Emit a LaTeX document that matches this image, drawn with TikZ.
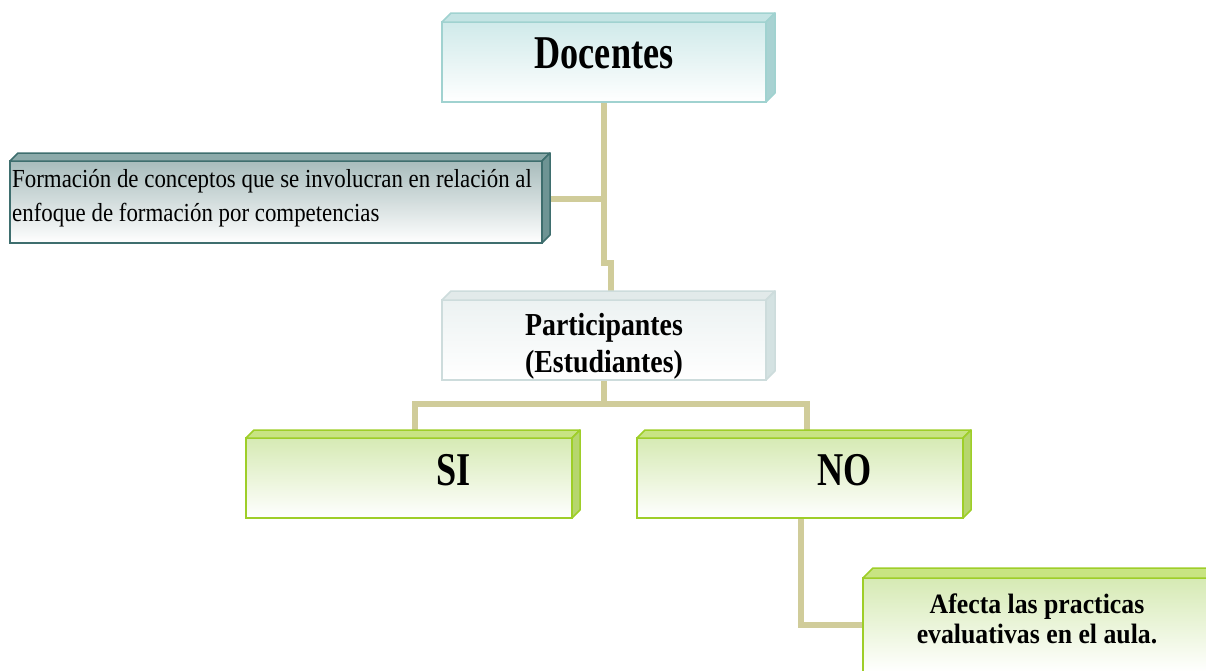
\documentclass[tikz,border=0pt]{standalone}
\usepackage{fontspec}
\setmainfont{Liberation Serif}
\newfontfamily\fontW[FakeStretch=0.77]{Liberation Serif}
\newfontfamily\fontP[FakeStretch=0.87]{Liberation Serif}
\newfontfamily\fontF[FakeStretch=0.88]{Liberation Serif}
\newfontfamily\fontA[FakeStretch=0.92]{Liberation Serif}
\usetikzlibrary{calc}

\definecolor{conncol}{RGB}{208,204,154}
\definecolor{docB}{RGB}{160,210,208}
\definecolor{docT}{RGB}{208,234,234}
\definecolor{docTop}{RGB}{196,228,228}
\definecolor{docSide}{RGB}{168,210,210}
\definecolor{formB}{RGB}{62,110,110}
\definecolor{formT}{RGB}{168,188,188}
\definecolor{formTop}{RGB}{140,170,170}
\definecolor{formSide}{RGB}{110,148,148}
\definecolor{partB}{RGB}{205,220,220}
\definecolor{partT}{RGB}{236,242,242}
\definecolor{partTop}{RGB}{226,234,234}
\definecolor{partSide}{RGB}{212,226,226}
\definecolor{grnB}{RGB}{158,206,40}
\definecolor{grnT}{RGB}{214,234,180}
\definecolor{grnTop}{RGB}{200,228,130}
\definecolor{grnSide}{RGB}{182,214,110}

\pgfdeclarelayer{bg}
\pgfsetlayers{bg,main}

% top and right faces of a bevelled box: node, depth, top fill, side fill, border
\newcommand{\bevelbox}[5]{%
  \filldraw[fill=#3, draw=#5, line width=1.5pt, line join=round]
    (#1.north west) -- ++(#2,-#2) -- ($(#1.north east)+(#2,-#2)$) -- (#1.north east) -- cycle;
  \filldraw[fill=#4, draw=#5, line width=1.5pt, line join=round]
    (#1.north east) -- ++(#2,-#2) -- ($(#1.south east)+(#2,-#2)$) -- (#1.south east) -- cycle;
}

\tikzset{
  conn/.style={draw=conncol, line width=6pt},
  face/.style={inner sep=0pt, outer sep=0pt, line width=2pt, anchor=north west},
  lbl/.style={inner sep=0pt, anchor=base},
}

\begin{document}
\begin{tikzpicture}[x=1pt, y=-1pt]
\useasboundingbox (0,0) rectangle (1206,670);
\clip (0,0) rectangle (1206,670);

% boxes
\node[face, draw=docB, top color=docT, bottom color=white,
      minimum width=324pt, minimum height=80pt] (doc) at (442,22) {};
\bevelbox{doc}{9}{docTop}{docSide}{docB}

\node[face, draw=formB, top color=formT, bottom color=white,
      minimum width=532pt, minimum height=82pt] (form) at (10,161) {};
\bevelbox{form}{8}{formTop}{formSide}{formB}

\node[face, draw=partB, top color=partT, bottom color=white,
      minimum width=324pt, minimum height=80pt] (part) at (442,300) {};
\bevelbox{part}{9}{partTop}{partSide}{partB}

\node[face, draw=grnB, top color=grnT, bottom color=white,
      minimum width=326pt, minimum height=80pt] (si) at (246,438) {};
\bevelbox{si}{8}{grnTop}{grnSide}{grnB}

\node[face, draw=grnB, top color=grnT, bottom color=white,
      minimum width=326pt, minimum height=80pt] (no) at (637,438) {};
\bevelbox{no}{8}{grnTop}{grnSide}{grnB}

\node[face, draw=grnB, top color=grnT, bottom color=white,
      minimum width=348pt, minimum height=94pt] (af) at (863,578) {};
\bevelbox{af}{10}{grnTop}{grnSide}{grnB}

% labels (multi-line labels sit on the baseline of their last line)
\node[lbl, font={\fontW\fontsize{47}{50}\selectfont\bfseries}] (doc-t) at (604,68) {Docentes};
\node[lbl, anchor=base west, align=left, font={\fontF\fontsize{26}{34}\selectfont}] (form-t) at (12,221)
  {Formación de conceptos que se involucran en relación al\\enfoque de formación por competencias};
\node[lbl, align=center, font={\fontP\fontsize{32}{37}\selectfont\bfseries}] (part-t) at (604,372)
  {Participantes\\(Estudiantes)};
\node[lbl, font={\fontW\fontsize{47}{50}\selectfont\bfseries}] (si-t) at (453.5,485) {SI};
\node[lbl, font={\fontW\fontsize{47}{50}\selectfont\bfseries}] (no-t) at (845,485) {NO};
\node[lbl, align=center, font={\fontA\fontsize{28}{30}\selectfont\bfseries}] (af-t) at (1037,643)
  {Afecta las practicas\\evaluativas en el aula.};

% connectors
\begin{pgfonlayer}{bg}
\coordinate (fb) at ($(form.east)+(8,-3)$);
\coordinate (pj) at ($(part.south)+(0,24)$);
\coordinate (sit) at ($(si.north west)+(169,-8)$);
\coordinate (not) at ($(no.north west)+(170,-8)$);
\coordinate (nb) at ($(no.south west)+(164,0)$);
\draw[conn] (doc.south) -- ++(0,161) -| ($(part.north)+(7,-9)$);
\draw[conn] (fb) -- (fb -| doc.south);
\draw[conn] (part.south) -- (pj);
\draw[conn] (sit) |- (pj) -| (not);
\draw[conn] (nb) |- (af.west);
\end{pgfonlayer}
\end{tikzpicture}
\end{document}
